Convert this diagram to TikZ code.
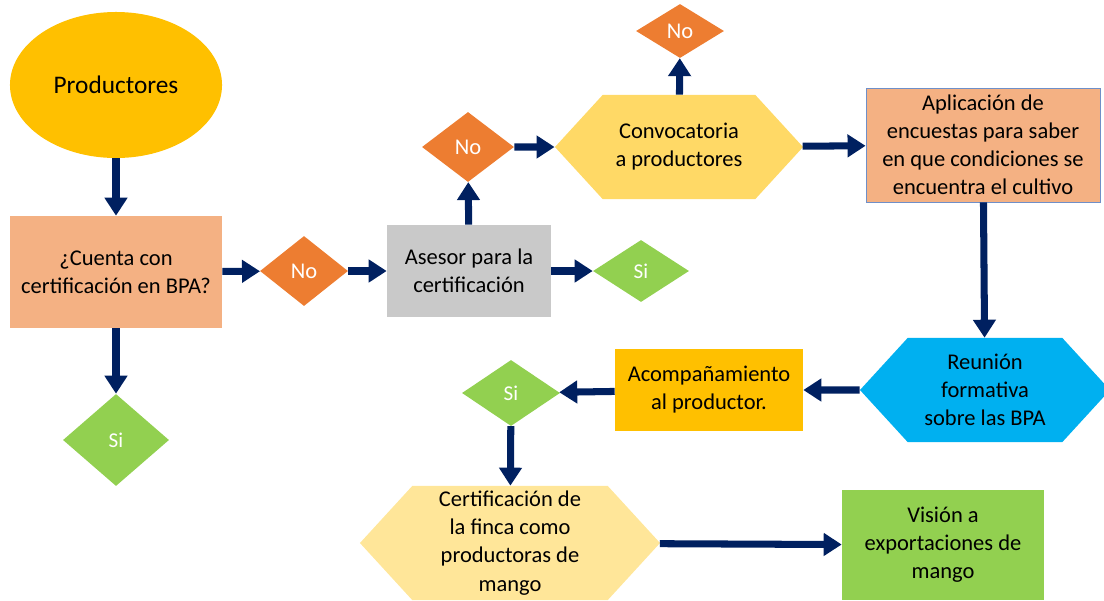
\documentclass[tikz,border=0pt]{standalone}
\usepackage{fontspec}
\setmainfont{Carlito}
\usepackage{xcolor}
\usepackage{tikz}
\usetikzlibrary{shapes.geometric,shapes.symbols,arrows.meta,positioning}
\definecolor{prodyellow}{HTML}{FFC000}
\definecolor{boxsalmon}{HTML}{F4B183}
\definecolor{noorange}{HTML}{ED7D31}
\definecolor{sigreen}{HTML}{92D050}
\definecolor{asesorgray}{HTML}{C9C9C9}
\definecolor{convyellow}{HTML}{FFD966}
\definecolor{certyellow}{HTML}{FFE699}
\definecolor{reuncyan}{HTML}{00B0F0}
\definecolor{edgeblue}{HTML}{6F8FC8}
\definecolor{arrownavy}{HTML}{002060}

\begin{document}
\begin{tikzpicture}[x=0.025cm, y=-0.025cm,
    font=\fontsize{16}{20}\selectfont,
    stepbox/.style={rectangle, align=center, inner sep=2pt},
    choice/.style={diamond, inner sep=0pt, text=white},
    hexa/.style={signal, signal to=east and west, signal pointer angle=95, align=center, inner sep=0pt},
    flow/.style={draw=arrownavy, line width=5pt, -{Triangle[width=0.55cm, length=0.45cm]}}]
        \useasboundingbox (0,0) rectangle (1104,600);
        % Flujo de certificacion en BPA
        \node[ellipse, fill=prodyellow, minimum width=5.3cm, minimum height=3.65cm, font=\fontsize{18}{22}\selectfont] (prod) at (116,85) {Productores};
        \node[stepbox, fill=boxsalmon, minimum width=5.3cm, minimum height=2.8cm] (cuenta) at (116,272) {¿Cuenta con\\certificación en BPA?};
        \node[choice, fill=sigreen, minimum width=2.65cm, minimum height=2.3cm, font=\fontsize{15}{18}\selectfont] (si1) at (116,440) {Si};
        \node[choice, fill=noorange, minimum width=2.2cm, minimum height=1.75cm] (no1) at (304,271) {No};
        \node[stepbox, fill=asesorgray, minimum width=4.1cm, minimum height=2.3cm] (asesor) at (469,271) {Asesor para la\\certificación};
        \node[choice, fill=sigreen, minimum width=2.4cm, minimum height=1.55cm, font=\fontsize{15}{18}\selectfont] (si3) at (641,271) {Si};
        \node[choice, fill=noorange, minimum width=2.3cm, minimum height=1.75cm] (no2) at (468,147) {No};
        \node[hexa, fill=convyellow, minimum width=6.2cm, minimum height=2.6cm] (conv) at (679,147) {Convocatoria\\a productores};
        \node[choice, fill=noorange, minimum width=2.2cm, minimum height=1.35cm] (no3) at (680,31) {No};
        \node[stepbox, fill=boxsalmon, draw=edgeblue, line width=0.6pt, minimum width=5.85cm, minimum height=2.85cm] (aplic) at (983,145) {Aplicación de\\encuestas para saber\\en que condiciones se\\encuentra el cultivo};
        \node[hexa, fill=reuncyan, minimum width=6.25cm, minimum height=2.6cm] (reun) at (985,390) {Reunión\\formativa\\sobre las BPA};
        \node[stepbox, fill=prodyellow, minimum width=4.7cm, minimum height=2.05cm] (acomp) at (709,390) {Acompañamiento\\al productor.};
        \node[choice, fill=sigreen, minimum width=2.45cm, minimum height=1.65cm, font=\fontsize{15}{18}\selectfont] (si2) at (511,393) {Si};
        \node[hexa, fill=certyellow, minimum width=7.5cm, minimum height=2.85cm] (cert) at (510,543) {Certificación de\\la finca como\\productoras de\\mango};
        \node[stepbox, fill=sigreen, minimum width=5.05cm, minimum height=2.75cm] (vision) at (943,545) {Visión a\\exportaciones de\\mango};

        \draw[flow] (prod) -- (cuenta);
        \draw[flow] (cuenta) -- (si1);
        \draw[flow] (cuenta) -- (no1);
        \draw[flow] (no1) -- (asesor);
        \draw[flow] (asesor) -- (si3);
        \draw[flow] (asesor) -- (no2);
        \draw[flow] (no2) -- (conv);
        \draw[flow] (conv) -- (no3);
        \draw[flow] (conv) -- (aplic);
        \draw[flow] (aplic) -- (reun);
        \draw[flow] (reun) -- (acomp);
        \draw[flow] (acomp) -- (si2);
        \draw[flow] (si2) -- (cert);
        \draw[flow] (cert) -- (vision);
    \end{tikzpicture}
\end{document}
